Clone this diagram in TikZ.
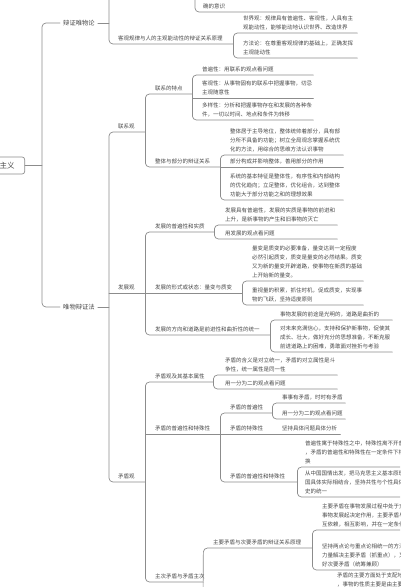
\documentclass[tikz,border=0pt]{standalone}
\usepackage{fontspec}
\newfontfamily\cjk{Noto Sans CJK SC}
\definecolor{linec}{HTML}{8C8C8C}
\definecolor{txtc}{HTML}{474747}
\tikzset{
  link/.style={draw=linec,line width=0.7pt,rounded corners=4pt},
  topic/.style={anchor=south west,inner xsep=0pt,inner ysep=3pt,align=left,
    text=txtc,font=\cjk\fontsize{5.5}{8.8}\selectfont},
  major/.style={inner xsep=3pt,inner ysep=1pt,text=txtc,
    font=\cjk\fontsize{6.3}{7}\selectfont},
  rootbox/.style={draw=linec,line width=0.7pt,rounded corners=2.5pt,fill=white,
    text=txtc,font=\cjk\fontsize{7.5}{9}\selectfont,minimum height=17pt,
    inner xsep=10pt,text width=40pt,align=right}
}
\begin{document}
\begin{tikzpicture}[x=1pt,y=-1pt,line cap=round,line join=round]
  \useasboundingbox (0,0) rectangle (400,587);
  \clip (0,0) rectangle (400,587);

  % Root and first level
  \node[rootbox,anchor=east] (root) at (25,165.5) {主义};
  \node[major,anchor=west] (bzwl) at (60,23) {辩证唯物论};
  \node[major,anchor=west] (wbzf) at (60,307) {唯物辩证法};
  \coordinate (trunk) at (42,165.5);
  \coordinate (bzwl-e) at (109,23);
  \coordinate (wbzf-e) at (109,307);
  \draw[link] (root.east) -- (trunk);
  \draw[link] (bzwl.west) -- (bzwl.west -| trunk) -- (wbzf.west -| trunk) -- (wbzf.west);
  \draw[link] (bzwl.east) -- (bzwl-e);
  \draw[link] (wbzf.east) -- (wbzf-e);

  % Dialectical materialism (upper part cut off)
  \coordinate (cut1) at (109,-10);
  \coordinate (cut2) at (195,-10);
  \node[topic,text width=114pt] (qdys) at (203,12) {确的意识};
  \draw[link] (cut2) -- (qdys.south west -| cut2) -- (qdys.south east);
  \node[topic,text width=115pt] (kggl) at (118,44) {客观规律与人的主观能动性的辩证关系原理};
  \draw[link] (cut1) -- (kggl.south west -| cut1) -- (kggl.south east);
  \node[topic,text width=114pt] (sjg) at (243,33) {世界观：规律具有普遍性、客观性，人具有主\\观能动性，能够能动地认识世界、改造世界};
  \node[topic,text width=114pt] (ffl) at (243,58) {方法论：在尊重客观规律的基础上，正确发挥\\主观能动性};
  \draw[link] (sjg.south east) -- (sjg.south west -| kggl.south east) -- (ffl.south west -| kggl.south east) -- (ffl.south east);

  % Second level of dialectics
  \node[topic,text width=27pt] (lxg) at (118,132) {联系观};
  \node[topic,text width=27pt] (fzg) at (118,293) {发展观};
  \node[topic,text width=27pt] (mdg) at (118,482) {矛盾观};
  \draw[link] (lxg.south east) -- (lxg.south west -| wbzf-e) -- (mdg.south west -| wbzf-e) -- (mdg.south east);
  \draw[link] (fzg.south west -| wbzf-e) -- (fzg.south east);

  % Connection
  \node[topic,text width=37pt] (lxtd) at (155,94) {联系的特点};
  \node[topic,text width=65pt] (ztbf) at (155,167) {整体与部分的辩证关系};
  \draw[link] (lxtd.south east) -- (lxtd.south west -| lxg.south east) -- (ztbf.south west -| lxg.south east) -- (ztbf.south east);

  \node[topic,text width=111pt] (ppx) at (202,75) {普遍性：用联系的观点看问题};
  \node[topic,text width=111pt] (kgx) at (202,98) {客观性：从事物固有的联系中把握事物，切忌\\主观随意性};
  \node[topic,text width=111pt] (dyx) at (202,120) {多样性：分析和把握事物存在和发展的各种条\\件，一切以时间、地点和条件为转移};
  \draw[link] (ppx.south east) -- (ppx.south west -| lxtd.south east) -- (dyx.south west -| lxtd.south east) -- (dyx.south east);
  \draw[link] (kgx.south west -| lxtd.south east) -- (kgx.south east);

  \node[topic,text width=113pt] (ztjy) at (230,155) {整体居于主导地位，整体统帅着部分，具有部\\分所不具备的功能；树立全局观念掌握系统优\\化的方法，用综合的思维方法认识事物};
  \node[topic,text width=113pt] (bfgc) at (230,167) {部分构成并影响整体，善用部分的作用};
  \node[topic,text width=113pt] (xtjb) at (230,200) {系统的基本特征是整体性，有序性和内部结构\\的优化趋向；立足整体，优化组合，达到整体\\功能大于部分功能之和的理想效果};
  \draw[link] (ztjy.south east) -- (ztjy.south west -| ztbf.south east) -- (xtjb.south west -| ztbf.south east) -- (xtjb.south east);
  \draw[link] (bfgc.south west -| ztbf.south east) -- (bfgc.south east);

  % Development
  \node[topic,text width=59pt] (fzpb) at (155,232) {发展的普遍性和实质};
  \node[topic,text width=87pt] (fzxs) at (155,293) {发展的形式或状态：量变与质变};
  \node[topic,text width=115pt] (fzfx) at (155,335) {发展的方向和道路是前进性和曲折性的统一};
  \draw[link] (fzpb.south east) -- (fzpb.south west -| fzg.south east) -- (fzfx.south west -| fzg.south east) -- (fzfx.south east);
  \draw[link] (fzxs.south west -| fzg.south east) -- (fzxs.south east);

  \node[topic,text width=112pt] (fzjy) at (225,225) {发展具有普遍性，发展的实质是事物的前进和\\上升，是新事物的产生和旧事物的灭亡};
  \node[topic,text width=112pt] (yfzg) at (225,239) {用发展的观点看问题};
  \draw[link] (fzjy.south east) -- (fzjy.south west -| fzpb.south east) -- (yfzg.south west -| fzpb.south east) -- (yfzg.south east);

  \node[topic,text width=111pt] (lbzb) at (252,281) {量变是质变的必要准备，量变达到一定程度\\必然引起质变，质变是量变的必然结果。质变\\又为新的量变开辟道路，使事物在新质的基础\\上开始新的量变。};
  \node[topic,text width=111pt] (zslj) at (252,305) {重视量的积累，抓住时机，促成质变，实现事\\物的飞跃，坚持适度原则};
  \draw[link] (lbzb.south east) -- (lbzb.south west -| fzxs.south east) -- (zslj.south west -| fzxs.south east) -- (zslj.south east);

  \node[topic,text width=112pt] (swqt) at (280,320) {事物发展的前途是光明的，道路是曲折的};
  \node[topic,text width=112pt] (dwlc) at (280,352) {对未来充满信心，支持和保护新事物，促使其\\成长、壮大，做好充分的思想准备，不断克服\\前进道路上的困难，勇敢面对挫折与考验};
  \draw[link] (swqt.south east) -- (swqt.south west -| fzfx.south east) -- (dwlc.south west -| fzfx.south east) -- (dwlc.south east);

  % Contradiction
  \node[topic,text width=58pt] (mdjb) at (155,382) {矛盾观及其基本属性};
  \node[topic,text width=65pt] (mdpt) at (155,434) {矛盾的普遍性和特殊性};
  \node[topic,text width=48pt] (zcmd) at (155,582) {主次矛盾与矛盾主次};
  \draw[link] (mdjb.south east) -- (mdjb.south west -| mdg.south east) -- (zcmd.south west -| mdg.south east) -- (zcmd.south east);
  \draw[link] (mdpt.south west -| mdg.south east) -- (mdpt.south east);

  \node[topic,text width=112pt] (mdhy) at (225,375) {矛盾的含义是对立统一，矛盾的对立属性是斗\\争性，统一属性是同一性};
  \node[topic,text width=112pt] (yfe1) at (225,389) {用一分为二的观点看问题};
  \draw[link] (mdhy.south east) -- (mdhy.south west -| mdjb.south east) -- (yfe1.south west -| mdjb.south east) -- (yfe1.south east);

  \node[topic,text width=42pt] (mdpb) at (230,413) {矛盾的普遍性};
  \node[topic,text width=42pt] (mdts) at (230,434) {矛盾的特殊性};
  \node[topic,text width=67pt] (mdpx) at (230,482) {矛盾的普遍性和特殊性};
  \draw[link] (mdpb.south east) -- (mdpb.south west -| mdpt.south east) -- (mdpx.south west -| mdpt.south east) -- (mdpx.south east);
  \draw[link] (mdts.south west -| mdpt.south east) -- (mdts.south east);

  \node[topic,text width=63pt] (ssym) at (282,403) {事事有矛盾，时时有矛盾};
  \node[topic,text width=63pt] (yfe2) at (282,419) {用一分为二的观点看问题};
  \draw[link] (ssym.south east) -- (ssym.south west -| mdpb.south east) -- (yfe2.south west -| mdpb.south east) -- (yfe2.south east);

  \node[topic,text width=58pt] (jcjt) at (282,434) {坚持具体问题具体分析};
  \draw[link] (jcjt.south west -| mdts.south east) -- (jcjt.south east);

  \node[topic,text width=115pt] (ppyy) at (305,467) {普遍性寓于特殊性之中，特殊性离不开普遍性\\，矛盾的普遍性和特殊性在一定条件下相互转\\换};
  \node[topic,text width=115pt] (zgqg) at (305,497) {从中国国情出发，把马克思主义基本原理同中\\国具体实际相结合，坚持共性与个性具体历\\史的统一};
  \draw[link] (ppyy.south east) -- (ppyy.south west -| mdpx.south east) -- (zgqg.south west -| mdpx.south east) -- (zgqg.south east);

  % Principal and secondary (lower part cut off)
  \coordinate (cut3) at (203,600);
  \node[topic,text width=99pt] (zyci) at (213,548) {主要矛盾与次要矛盾的辩证关系原理};
  \draw[link] (zyci.south east) -- (zyci.south west -| zcmd.south east) -- (cut3);

  \node[topic,text width=115pt] (zymd) at (322,530) {主要矛盾在事物发展过程中处于支配地位，对\\事物发展起决定作用，主要矛盾与次要矛盾相\\互依赖，相互影响，并在一定条件下相互转化};
  \node[topic,text width=115pt] (jclz) at (322,570) {坚持两点论与重点论相统一的方法论，既要集中\\力量解决主要矛盾（抓重点），又要统筹兼顾处理\\好次要矛盾（统筹兼顾）};
  \draw[link] (zymd.south east) -- (zymd.south west -| zyci.south east) -- (jclz.south west -| zyci.south east) -- (jclz.south east);

  \node[topic,text width=115pt] (zyfm) at (337,590) {矛盾的主要方面处于支配地位，起主导作用\\，事物的性质主要是由主要方面决定的};
\end{tikzpicture}
\end{document}
